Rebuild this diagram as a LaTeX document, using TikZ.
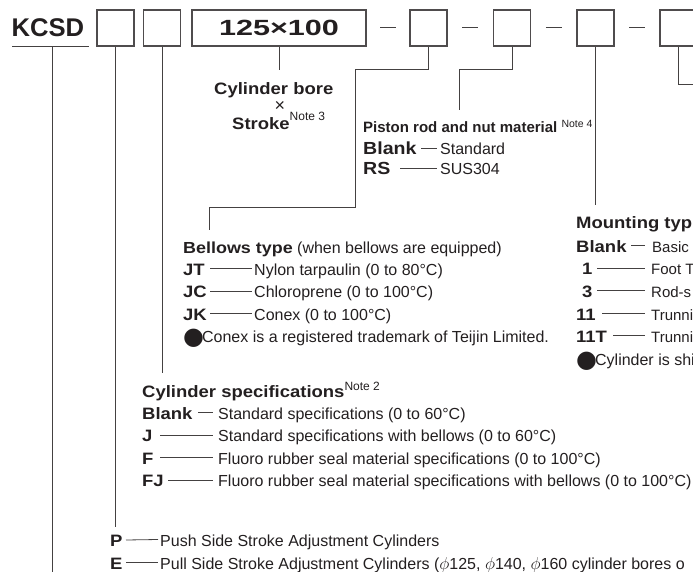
\documentclass[tikz,border=0pt]{standalone}
\usepackage{fontspec}
\setmainfont{Liberation Sans}
\newfontfamily\widefont{Liberation Sans}[FakeStretch=1.12]
\newfontfamily\symfont{DejaVu Sans}
\usetikzlibrary{calc}
\definecolor{ink}{HTML}{231F20}
\newcommand{\notesup}[3]{\raisebox{#1pt}{\normalfont\fontsize{#2}{#2}\selectfont Note~#3}}
\newcommand{\bul}{{\symfont\fontsize{24}{24}\selectfont\raisebox{-2.5pt}{●}}\kern-2pt}
\tikzset{
  slot/.style={draw=ink!80, line width=1.1pt, minimum width=37pt, minimum height=36pt, inner sep=0pt},
  keytxt/.style={anchor=base west, inner sep=0pt, text=ink, font=\widefont\bfseries\fontsize{16.5}{18}\selectfont},
  desctxt/.style={anchor=base west, inner sep=0pt, text=ink, font=\fontsize{16}{18}\selectfont},
  wire/.style={draw=ink!85, line width=1pt},
  tie/.style={draw=ink!85, line width=0.8pt}
}
\begin{document}
\begin{tikzpicture}[x=1pt, y=-1pt]
\useasboundingbox (0,0) rectangle (693,572);
\clip (0,0) rectangle (693,572);

% model code row
\node[anchor=base west, inner sep=0pt, text=ink, font=\bfseries\fontsize{25.6}{28}\selectfont] (kcsd) at (11.5,37) {KCSD};
\foreach \nm/\xx in {b1/115.5, b2/162, b4/428.5, b5/512, b6/595.5, b7/678.5}
	\node[slot] (\nm) at (\xx,28) {};
\node[slot, minimum width=174pt, text=ink, font=\bfseries\fontsize{22}{24}\selectfont] (b3) at (279,28) {\scalebox{1.39}[1]{125×100}};
\foreach \lf/\rt in {b3/b4, b4/b5, b5/b6, b6/b7}
	\draw[wire] ($(\lf.east)!.5!(\rt.west)+(-8,0)$) -- +(16,0);

% connector ends
\coordinate (kc-top) at (52,47);
\coordinate (kc-end) at (52,572);
\coordinate (pe-top) at (115.5,527);
\coordinate (cs-top) at (162,373);
\coordinate (cb-top) at (279,70);
\coordinate (bl-top) at (209,230);
\coordinate (pr-top) at (459,110);
\coordinate (mt-top) at (595.5,205);
\coordinate (r7-end) at (700,85);

\draw[wire] (12,47) -- (89,47);
\draw[wire] (kc-top) -- (kc-end);
\draw[wire] (b1.south) -- (pe-top);
\draw[wire] (b2.south) -- (cs-top);
\draw[wire] (b3.south) -- (cb-top);
\draw[wire] (b4.south) |- (355,70) |- (209,208) -- (bl-top);
\draw[wire] (b5.south) |- (459,70) -- (pr-top);
\draw[wire] (b6.south) -- (mt-top);
\draw[wire] (b7.south) |- (r7-end);

% bore x stroke
\node[keytxt] (bore) at (214,95) {Cylinder bore};
\node[anchor=base, inner sep=0pt, text=ink, font=\fontsize{18}{18}\selectfont] (times) at (280,112) {×};
\node[keytxt] (stroke) at (232,130) {Stroke\notesup{9}{12}{3}};

% piston rod
\node[anchor=base west, inner sep=0pt, text=ink, font=\bfseries\fontsize{15}{18}\selectfont] (pr-h) at (363,133) {Piston rod and nut material \notesup{5}{10.5}{4}};
\foreach \cd/\tx/\yy/\xa [count=\i] in {Blank/Standard/155/421, RS/SUS304/175/400} {
	\node[keytxt, font=\widefont\bfseries\fontsize{17.5}{18}\selectfont] (pr-c\i) at (363,\yy) {\cd};
	\node[desctxt] (pr-d\i) at (440,\yy) {\tx};
	\draw[tie] (\xa,\yy-6.5) -- ($(pr-d\i.base west)+(-3,-6.5)$);
}

% bellows
\node[desctxt] (bl-h) at (183,253) {{\widefont\bfseries Bellows type} (when bellows are equipped)};
\foreach \cd/\tx/\yy [count=\i] in {JT/Nylon tarpaulin (0 to 80°C)/275.3, JC/Chloroprene (0 to 100°C)/297.6, JK/Conex (0 to 100°C)/320} {
	\node[keytxt] (bl-c\i) at (183,\yy) {\cd};
	\node[desctxt] (bl-d\i) at (254,\yy) {\tx};
	\draw[tie] (210,\yy-6.5) -- ($(bl-d\i.base west)+(-2,-6.5)$);
}
\node[desctxt] (bl-n) at (183,342) {\bul Conex is a registered trademark of Teijin Limited.};

% cylinder specifications
\node[keytxt] (cs-h) at (142,397) {Cylinder specifications\notesup{7}{12}{2}};
\foreach \cd/\tx/\yy/\xa [count=\i] in {Blank/Standard specifications (0 to 60°C)/419/198, J/Standard specifications with bellows (0 to 60°C)/441.5/160, F/Fluoro rubber seal material specifications (0 to 100°C)/464/160, FJ/Fluoro rubber seal material specifications with bellows (0 to 100°C)/486.5/168} {
	\node[keytxt] (cs-c\i) at (142,\yy) {\cd};
	\node[desctxt] (cs-d\i) at (218,\yy) {\tx};
	\draw[tie] (\xa,\yy-6.5) -- ($(cs-d\i.base west)+(-5,-6.5)$);
}

% mounting type
\node[keytxt] (mt-h) at (576,229) {Mounting typ};
\foreach \cd/\tx/\yy/\xc/\xa/\xd [count=\i] in {Blank/Basic/252/576/631/652, 1/Foot T/274.5/582/597/651, 3/Rod-s/297/582/597/651, 11/Trunni/320/576/602/651, 11T/Trunni/342/576/613/651} {
	\node[keytxt] (mt-c\i) at (\xc,\yy) {\cd};
	\node[desctxt, font=\fontsize{15}{18}\selectfont] (mt-d\i) at (\xd,\yy) {\tx};
	\draw[tie] (\xa,\yy-6.5) -- (645,\yy-6.5);
}
\node[desctxt] (mt-n) at (576,365) {\bul Cylinder is shi};

% stroke adjustment
\node[keytxt] (pe-c1) at (110,546) {P};
\node[desctxt] (pe-d1) at (160,546) {Push Side Stroke Adjustment Cylinders};
\node[keytxt] (pe-c2) at (110,569) {E};
\node[desctxt] (pe-d2) at (160,569) {Pull Side Stroke Adjustment Cylinders ($\phi$125, $\phi$140, $\phi$160 cylinder bores o};
\draw[tie] (126,540) -- ($(pe-d1.base west)+(-2,-6.5)$);
\draw[tie] (126,562.5) -- ($(pe-d2.base west)+(-2,-6.5)$);
\end{tikzpicture}
\end{document}
